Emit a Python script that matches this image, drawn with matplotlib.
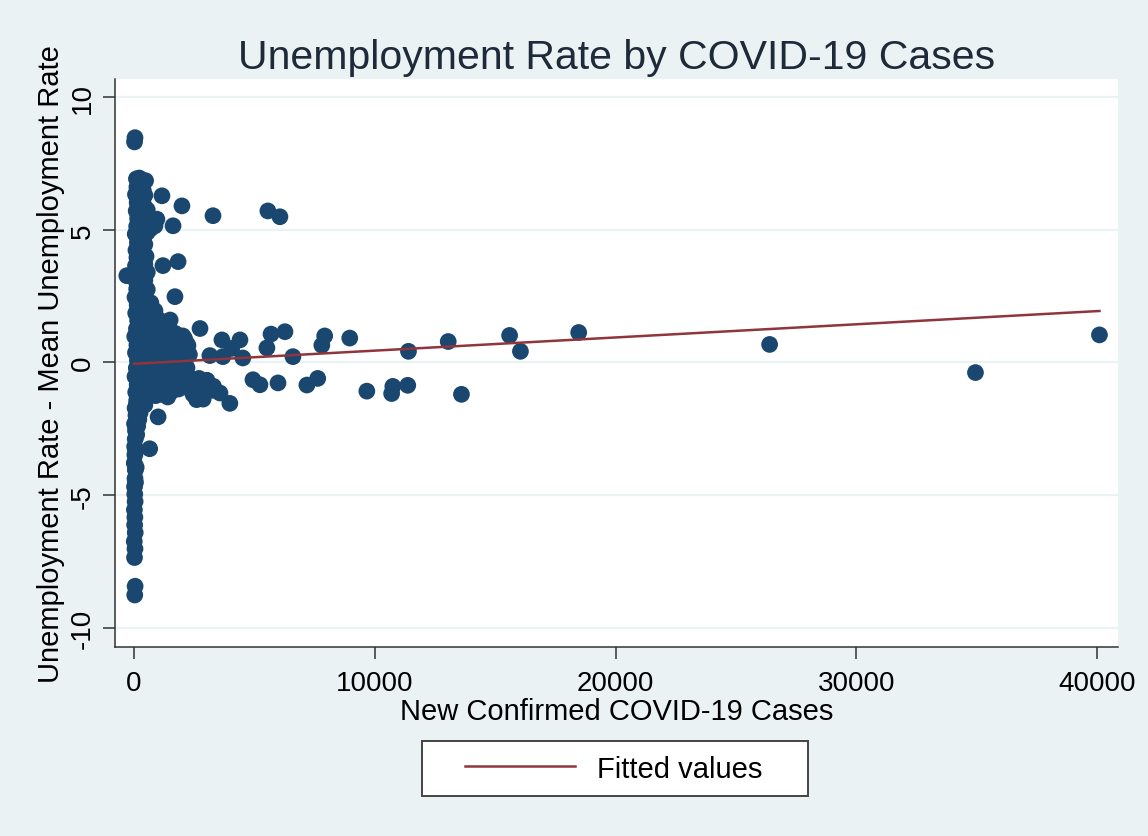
import matplotlib.pyplot as plt
from matplotlib.legend_handler import HandlerLine2D
import numpy as np

plt.rcParams['font.family'] = ['Liberation Sans', 'DejaVu Sans']

# points stacked near zero new cases (the vertical column)
column_cases = [30, 45, 20, 40, 10, 50, 25, 35, 15, 45, 30, 20, 40, 55, 10, 35,
                25, 50, 60, 20, 80, 45, 110, 70, 130, 40, 95, 140, 60, 120, 30,
                100, 150, 70, 130, 40, 110, 90, 150, 60, 120, 80, 140, 50, 110,
                150, 90, 130, 60, 120, 100, 20, 40,
                60, 90, 70, 110, 80, 130, 100, 150]
column_rate = [-8.76, -8.43, -7.35, -7.02, -6.74, -6.41, -6.12, -5.83, -5.55,
               -5.24, -4.96, -4.68, -4.37, -4.05, -3.79, -3.48, -3.17, -2.88,
               -2.57, -2.31, -1.99, -1.72, -1.43, -1.12, -0.84, -0.53, -0.21,
               0.08, 0.37, 0.66, 0.98, 1.27, 1.58, 1.86, 2.17, 2.46, 2.77, 3.05,
               3.36, 3.64, 3.95, 4.23, 4.52, 4.84, 5.13, 5.42, 5.71, 6.02, 6.33,
               6.61, 6.92, 8.31, 8.47,
               -4.52, -3.95, -3.33, -2.72, -2.45, -2.05, -1.58, -1.3]

# wider part of the column above zero
upper_cases = [220, 480, 380, 260, 420, 310, 450, 700, 330, 400, 280, 350, 300,
               250, 320, 270, 380, 500, 650, 870, 450, 1290, -300, 870, 950,
               1160, 1990, 1620, 1200, 1830, 1700, 2030, 2240, 1500, 600,
               200, 350, 150, 450, 200, 550, 180, 600, 520, 200, 550, 180, 450,
               200, 500, 180, 450, 200, 550, 180, 450, 200, 550, 180, 400, 200,
               700, 300, 550, 250, 800, 1050, 400]
upper_rate = [6.95, 6.85, 6.5, 6.2, 5.9, 5.6, 5.3, 5.05, 5.0, 4.7, 4.4, 4.1,
              3.8, 3.5, 3.2, 2.9, 2.6, 2.3, 2.0, 1.95, 1.75, 1.4, 3.27, 5.15,
              5.4, 6.28, 5.9, 5.15, 3.65, 3.8, 2.48, 1.0, 0.64, 1.6, 1.5,
              6.7, 6.75, 6.4, 6.3, 5.95, 5.75, 5.45, 5.5, 5.1, 4.85, 4.9, 4.55,
              4.45, 4.25, 4.0, 3.95, 3.7, 3.6, 3.4, 3.3, 3.1, 3.0, 2.75, 2.7,
              2.35, 2.4, 2.25, 2.05, 1.85, 1.7, 1.65, 1.6, 1.55]

# dense cluster close to the origin
cluster_cases = [300, 500, 700, 900, 1100, 1300, 1500, 1700, 1900, 2100,
                 300, 550, 800, 1000, 1250, 1450, 1650, 1850, 2050, 2300,
                 300, 500, 750, 950, 1200, 1400, 1600, 1800, 2000, 2200,
                 300, 450, 700, 900, 1100, 1300, 1750, 1950, 2150, 2350,
                 300, 550, 800, 1000, 1200, 1400, 1600, 1850,
                 300, 500, 700, 900, 1150, 1400,
                 2500, 2700, 2870, 3240, 3030, 3150, 3690, 4060, 2740, 650, 1000,
                 400, 600, 800, 1000, 1200, 1400, 1600, 1800, 2000, 2200,
                 400, 650, 900, 1100, 1350, 1550, 1750, 1950, 2150,
                 400, 600, 850, 1050, 1300, 1500, 1700, 1900, 2100,
                 400, 650, 800, 1000, 1200, 1450, 1650,
                 400, 650, 900, 1100, 1300, 1550, 1750, 2000, 2250, 2450, 2600,
                 200, 450, 250, 150, 200, 3300, 2700]
cluster_rate = [1.3, 1.4, 1.2, 1.35, 1.3, 1.4, 1.2, 1.1, 1.0, 0.9,
                0.9, 0.8, 0.9, 0.7, 0.9, 0.6, 0.8, 0.5, 0.6, 0.3,
                0.4, 0.3, 0.4, 0.1, 0.3, 0.1, 0.2, 0.0, 0.1, -0.2,
                -0.1, -0.3, -0.1, -0.4, -0.2, -0.5, -0.6, -0.4, -0.7, -0.6,
                -0.6, -0.8, -0.6, -0.9, -0.8, -1.0, -0.8, -1.0,
                -1.1, -1.3, -1.1, -1.25, -1.2, -1.3,
                -0.9, -1.1, -1.38, -1.05, -0.67, 0.26, 0.22, 0.53, 1.28, -3.25, -2.05,
                1.1, 1.05, 1.1, 1.05, 1.1, 1.0, 0.95, 0.8, 0.75, 0.7,
                0.6, 0.55, 0.6, 0.45, 0.5, 0.4, 0.35, 0.35, 0.25,
                0.15, 0.05, 0.2, -0.05, 0.05, -0.05, 0.0, -0.15, -0.35,
                -0.45, -0.35, -0.3, -0.6, -0.5, -0.7, -0.45,
                -0.85, -0.95, -1.05, -1.0, -1.15, -1.1, -0.9, -0.9, -0.95, -1.2, -1.4,
                -1.55, -1.6, -1.9, -2.4, -2.15, -0.9, -0.6]

# scattered points further out
spread_cases = [3650, 4400, 4520, 5690, 6270, 5520, 6600, 7920, 7800, 8960,
                11400, 13050, 15600, 16050, 18470, 26400, 34950, 40100,
                3570, 3980, 4940, 5230, 5980, 7180, 7630, 9670, 10700, 10750,
                11370, 13600, 3280, 5560, 6060]
spread_rate = [0.85, 0.85, 0.17, 1.07, 1.16, 0.55, 0.22, 1.0, 0.65, 0.92,
               0.42, 0.79, 1.02, 0.42, 1.13, 0.68, -0.38, 1.04,
               -1.15, -1.54, -0.65, -0.84, -0.77, -0.85, -0.6, -1.08, -1.17, -0.9,
               -0.86, -1.2, 5.53, 5.71, 5.49]

# linear fit
fit_cases = [0, 40100]
fit_rate = [-0.05, 1.94]

cases = np.array(column_cases + upper_cases + cluster_cases + spread_cases)
rate = np.array(column_rate + upper_rate + cluster_rate + spread_rate)

navy = '#1a476f'
maroon = '#90353b'
bg = '#eaf2f3'

fig = plt.figure(figsize=(11.48, 8.37), dpi=100, facecolor=bg)
ax = fig.add_axes([0.1002, 0.2258, 0.8737, 0.6786])
ax.set_facecolor('white')

ax.scatter(cases, rate, s=145, color=navy, edgecolors='none', zorder=3)
ax.plot(fit_cases, fit_rate, color=maroon, lw=1.8, zorder=4, label='Fitted values')

ax.set_xlim(-789, 40872)
ax.set_ylim(-10.72, 10.68)
ax.set_xticks([0, 10000, 20000, 30000, 40000])
ax.set_yticks([-10, -5, 0, 5, 10])
ax.set_yticklabels(['-10', '-5', '0', '5', '10'], rotation=90, va='center')

# horizontal grid like the stata scheme
ax.grid(axis='y', color=bg, lw=1.6, zorder=0)
ax.set_axisbelow(True)

for side in ['top', 'right']:
    ax.spines[side].set_visible(False)
for side in ['left', 'bottom']:
    ax.spines[side].set_color('#333333')
    ax.spines[side].set_linewidth(1.1)

ax.tick_params(axis='both', length=8.6, width=1.1, color='#333333',
               labelsize=20)
ax.tick_params(axis='x', pad=8)
ax.tick_params(axis='y', pad=5)

ax.set_xlabel('New Confirmed COVID-19 Cases', fontsize=21, labelpad=1)
ax.set_ylabel('Unemployment Rate - Mean Unemployment Rate', fontsize=21, labelpad=4)
ax.set_title('Unemployment Rate by COVID-19 Cases', fontsize=29.5, pad=8, color='#1e2a3a')

leg = fig.legend(handles=ax.get_lines(), labels=['Fitted values    '],
                 loc='center', bbox_to_anchor=(0.5357, 0.0806),
                 fontsize=21, handlelength=4.8, handletextpad=0.75,
                 borderpad=0.45, fancybox=False, framealpha=1,
                 handler_map={plt.Line2D: HandlerLine2D(xpad=1.04)})
leg.get_frame().set_edgecolor('#444444')
leg.get_frame().set_linewidth(1.4)

fig.savefig('out.png', dpi=100, facecolor=bg)
